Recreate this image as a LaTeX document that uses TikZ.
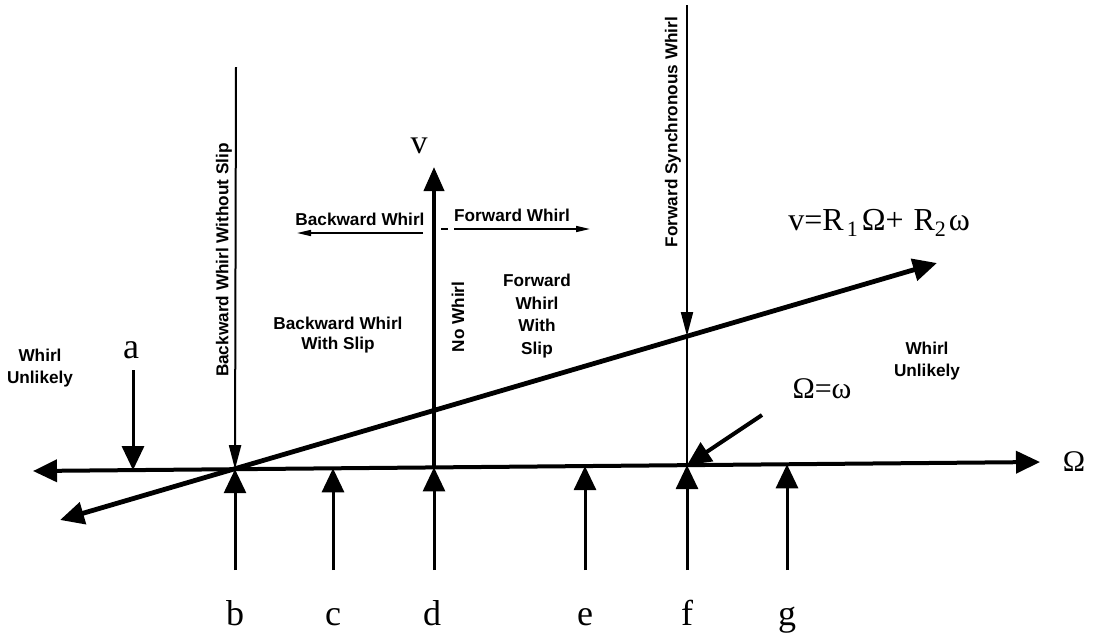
\documentclass[tikz,border=0pt]{standalone}
\usepackage{fontspec}
\setmainfont{Liberation Serif}
\setsansfont{Liberation Sans}
\usetikzlibrary{arrows.meta, positioning}

\tikzset{
  axisline/.style={line width=2pt},
  slantline/.style={line width=2.4pt},
  markarrow/.style={line width=1.5pt, -{Triangle[length=12pt,width=11pt]}},
  thinarrow/.style={line width=1pt, -{Triangle[length=12pt,width=6pt]}},
  dirarrow/.style={line width=0.8pt, -{Triangle[length=7pt,width=3pt]}},
  region/.style={font=\sffamily\bfseries\fontsize{8.6}{11.2}\selectfont, align=center, inner sep=1pt},
  ticklabel/.style={font=\fontsize{18}{20}\selectfont, inner sep=0pt, anchor=base},
  greeklabel/.style={font=\fontsize{15}{17}\selectfont, inner sep=0pt},
}
\newcommand{\lowsub}[1]{\raisebox{-3pt}{\fontsize{11}{11}\selectfont #1}}

\begin{document}
\begin{tikzpicture}[x=0.5pt, y=-0.5pt]
  \useasboundingbox (0,0) rectangle (1094,633);

  % Omega axis
  \coordinate (omL) at (33,471);
  \coordinate (omR) at (1040,462);
  \draw[axisline, {Triangle[length=12pt,width=11pt]}-{Triangle[length=12pt,width=11pt]}] (omL) -- (omR);
  \node[greeklabel] (omlab) at (1074,462) {Ω};

  % v axis
  \coordinate (d) at (434,467.4);
  \coordinate (vtop) at (434,167);
  \draw[axisline, -{Triangle[length=12pt,width=10pt]}] (d) -- (vtop);
  \node[ticklabel, font=\fontsize{17}{19}\selectfont, anchor=center] (vlab) at (419,146) {v};

  % line v = R1 Omega + R2 omega
  \coordinate (sL) at (60,520);
  \coordinate (sR) at (937,263);
  \draw[slantline, {Triangle[length=12pt,width=11pt]}-{Triangle[length=12pt,width=11pt]}] (sL) -- (sR);
  \node[greeklabel, font=\fontsize{16}{18}\selectfont, anchor=base west] (eqn) at (788,230)
    {v=R\kern1.5pt\lowsub{1}\kern2pt Ω+\kern5pt R\lowsub{2}\kern1.5pt ω};

  % marks under the axis
  \foreach \name/\xx/\yy in {b/235/469.2, c/333/468.3, dd/434/467.4, e/585/466.1, f/687/465.1, g/787/464.3} {
    \coordinate (\name top) at (\xx,\yy);
    \coordinate (\name bot) at (\xx,570);
    \draw[markarrow] (\name bot) -- (\name top);
  }
  \node[ticklabel] (blab) at (235,625) {b};
  \node[ticklabel] (clab) at (333,625) {c};
  \node[ticklabel] (dlab) at (432,625) {d};
  \node[ticklabel] (elab) at (585,625) {e};
  \node[ticklabel] (flab) at (687,625) {f};
  \node[ticklabel] (glab) at (787,625) {g};

  % mark a
  \node[ticklabel] (alab) at (131,358) {a};
  \coordinate (atop) at (133,370);
  \coordinate (abot) at (133,470.1);
  \draw[markarrow] (atop) -- (abot);

  % backward whirl without slip
  \coordinate (bwtop) at (236,67);
  \draw[thinarrow] (bwtop) -- (btop);
  \node[region, rotate=90] (bwlab) at (224,260) {Backward Whirl Without Slip};

  % forward synchronous whirl
  \coordinate (fstop) at (687,5);
  \coordinate (fsmid) at (687,336);
  \draw[thinarrow] (fstop) -- (fsmid);
  \draw[line width=1pt] (fsmid) -- (ftop);
  \node[region, rotate=90] (fslab) at (673,132) {Forward Synchronous Whirl};

  % Omega = omega
  \node[greeklabel] (eqlab) at (822,389) {Ω=ω};
  \coordinate (eqstart) at (762,415);
  \draw[line width=2pt, -{Triangle[length=12pt,width=11pt]}] (eqstart) -- (ftop);

  % whirl directions
  \coordinate (bwa) at (423,233);
  \coordinate (bwb) at (297,233);
  \draw[dirarrow] (bwa) -- (bwb);
  \node[region] (bwd) at (360,219) {Backward Whirl};
  \coordinate (fwa) at (441,229);
  \coordinate (fwb) at (448,229);
  \coordinate (fwc) at (454,229);
  \coordinate (fwd) at (590,229);
  \draw[line width=0.8pt] (fwa) -- (fwb);
  \draw[dirarrow] (fwc) -- (fwd);
  \node[region] (fwlab) at (512,215) {Forward Whirl};

  % regions
  \node[region] (nowhirl) at (458,317) [rotate=90] {No Whirl};
  \node[region, font=\sffamily\bfseries\fontsize{8.6}{10}\selectfont] (bslip) at (338,335) {Backward Whirl\\With Slip};
  \node[region] (fslip) at (537,316) {Forward\\Whirl\\With\\Slip};
  \node[region] (unlL) at (40,368) {Whirl\\Unlikely};
  \node[region] (unlR) at (927,361) {Whirl\\Unlikely};
\end{tikzpicture}
\end{document}
